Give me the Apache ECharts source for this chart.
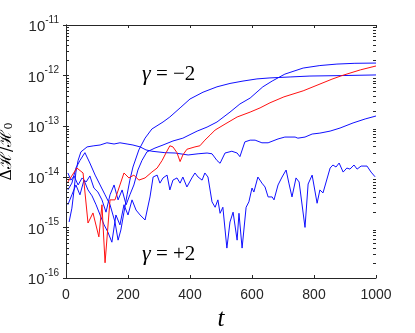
<!DOCTYPE html>
<html>
<head>
<meta charset="utf-8">
<script src="https://cdn.jsdelivr.net/npm/echarts@6/dist/echarts.min.js"></script>
<style>
  html, body { margin: 0; padding: 0; background: #fff; }
  #chart { width: 415px; height: 333px; }
</style>
</head>
<body>
<div id="chart"></div>
<script>
// tick values
const xTicks = [0, 200, 400, 600, 800, 1000];
const decades = [1e-16, 1e-15, 1e-14, 1e-13, 1e-12];
const minorMantissas = [2, 3, 4, 5, 6, 7, 8, 9];

// gamma = -2, early rise, saturates near 1e-12
const blueEarly = [
  [6, 5.5e-15], [19, 7.5e-15], [32, 1.49e-14], [45, 2.1e-14], [61, 3.0e-14], [77, 1.87e-14],
  [94, 1.08e-14], [110, 6.9e-15], [126, 4.4e-15], [142, 2.8e-15], [158, 1.28e-15], [168, 5.6e-16],
  [177, 8.9e-16], [187, 2.0e-15], [197, 4.4e-15], [206, 8.6e-15], [216, 1.56e-14], [235, 3.4e-14],
  [255, 5.8e-14], [277, 8.8e-14], [313, 1.21e-13], [335, 1.52e-13], [368, 2.3e-13], [400, 3.45e-13],
  [442, 4.7e-13], [487, 6.0e-13], [529, 7.0e-13], [571, 7.8e-13], [616, 8.6e-13], [658, 9.0e-13],
  [723, 9.4e-13], [787, 9.8e-13], [884, 1.0e-12], [1000, 1.03e-12]
];

// gamma = -2, later rise, up to ~1.8e-12
const blueLate = [
  [6, 1.19e-14], [16, 8.6e-15], [26, 1.04e-14], [39, 6.9e-15], [52, 9.5e-15], [65, 7.9e-15],
  [77, 1.04e-14], [90, 6.0e-15], [103, 5.0e-15], [116, 3.5e-15], [129, 2.0e-15], [142, 4.4e-15],
  [155, 6.9e-15], [168, 3.5e-15], [181, 5.5e-15], [194, 2.8e-15], [206, 4.4e-15], [219, 6.9e-15],
  [232, 1.36e-14], [245, 2.1e-14], [261, 3.1e-14], [287, 3.7e-14], [313, 4.25e-14], [345, 5.1e-14],
  [377, 5.8e-14], [423, 8.0e-14], [455, 9.6e-14], [487, 1.21e-13], [529, 1.9e-13], [561, 2.75e-13],
  [594, 3.6e-13], [635, 6.0e-13], [665, 7.8e-13], [706, 1.07e-12], [765, 1.41e-12], [819, 1.58e-12],
  [874, 1.69e-12], [932, 1.75e-12], [1000, 1.77e-12]
];

// plateau near 4e-14, slow rise to ~1.6e-13
const bluePlateau = [
  [10, 1.28e-15], [19, 2.4e-15], [26, 5.5e-15], [32, 1.24e-14], [39, 2.1e-14], [48, 3.1e-14],
  [68, 3.9e-14], [90, 4.1e-14], [110, 4.25e-14], [132, 4.7e-14], [155, 4.45e-14], [174, 4.7e-14],
  [197, 4.45e-14], [216, 4.25e-14], [239, 3.9e-14], [258, 3.4e-14], [277, 3.2e-14], [319, 3.0e-14],
  [352, 2.95e-14], [394, 2.7e-14], [426, 2.85e-14], [455, 2.95e-14], [471, 2.85e-14], [487, 2.1e-14],
  [497, 1.85e-14], [513, 2.95e-14], [535, 3.2e-14], [552, 2.95e-14], [561, 2.5e-14], [577, 4.9e-14],
  [594, 5.3e-14], [610, 5.3e-14], [632, 4.7e-14], [652, 4.7e-14], [684, 5.6e-14], [706, 6.1e-14],
  [739, 6.1e-14], [748, 5.8e-14], [771, 6.1e-14], [794, 7.0e-14], [819, 7.3e-14], [852, 8.0e-14],
  [884, 9.2e-14], [926, 1.16e-13], [965, 1.39e-13], [1000, 1.59e-13]
];

// gamma = +2, noisy
const blueNoisy = [
  [6, 2.8e-15], [19, 4.4e-15], [32, 6.9e-15], [45, 4.4e-15], [58, 8.6e-15], [71, 5.5e-15],
  [84, 4.2e-15], [97, 2.8e-15], [110, 1.76e-15], [123, 1.12e-15], [135, 8.1e-16], [148, 5.1e-16],
  [161, 1.76e-15], [174, 1.12e-15], [187, 2.8e-15], [200, 1.76e-15], [213, 3.5e-15], [226, 2.2e-15],
  [239, 1.76e-15], [255, 1.4e-15], [271, 4.0e-15], [281, 9.9e-15], [294, 1.08e-14], [303, 7.5e-15],
  [313, 9.5e-15], [326, 1.08e-14], [335, 5.5e-15], [345, 8.6e-15], [358, 9.5e-15], [368, 7.5e-15],
  [377, 9.9e-15], [390, 6.3e-15], [406, 9.5e-15], [416, 1.19e-14], [426, 9.9e-15], [439, 8.6e-15],
  [448, 1.19e-14], [458, 9.9e-15], [471, 3.2e-15], [481, 2.5e-15], [490, 3.5e-15], [497, 1.9e-15],
  [506, 2.5e-15], [519, 3.9e-16], [529, 1.28e-15], [539, 2.0e-15], [552, 5.6e-16], [558, 1.9e-15],
  [568, 3.9e-16], [581, 2.5e-15], [590, 3.2e-15], [600, 6.0e-15], [606, 5.0e-15], [619, 9.9e-15],
  [632, 7.5e-15], [642, 6.3e-15], [652, 4.0e-15], [665, 4.0e-15], [671, 3.5e-15], [684, 6.9e-15],
  [697, 9.9e-15], [710, 1.36e-14], [719, 7.5e-15], [729, 4.0e-15], [742, 9.5e-15], [752, 7.9e-15],
  [771, 1.0e-15], [781, 7.2e-15], [794, 1.08e-14], [810, 3.0e-15], [819, 5.5e-15], [829, 4.8e-15],
  [852, 1.49e-14], [861, 1.71e-14], [871, 1.56e-14], [881, 1.87e-14], [894, 1.24e-14], [906, 1.49e-14],
  [916, 1.42e-14], [929, 1.71e-14], [939, 1.42e-14], [952, 1.63e-14], [971, 1.63e-14], [984, 1.24e-14],
  [997, 1.0e-14]
];

const red = [
  [6, 7.9e-15], [35, 1.49e-14], [55, 1.19e-14], [71, 1.22e-15], [87, 1.93e-15], [106, 6.5e-16],
  [116, 2.8e-15], [126, 2.0e-16], [142, 3.5e-15], [158, 3.5e-15], [174, 6.9e-15], [187, 1.19e-14],
  [203, 9.5e-15], [219, 1.08e-14], [235, 8.6e-15], [255, 9.5e-15], [277, 1.24e-14], [294, 1.49e-14],
  [310, 2.1e-14], [323, 3.0e-14], [335, 4.1e-14], [345, 3.9e-14], [358, 3.0e-14], [368, 2.0e-14],
  [377, 2.7e-14], [390, 3.5e-14], [416, 3.9e-14], [432, 4.1e-14], [448, 5.3e-14], [465, 6.7e-14],
  [481, 8.4e-14], [513, 1.1e-13], [552, 1.52e-13], [594, 1.9e-13], [626, 2.3e-13], [658, 2.9e-13],
  [703, 3.8e-13], [765, 5.0e-13], [858, 8.5e-13], [890, 1.0e-12], [950, 1.3e-12], [1000, 1.55e-12]
];

// minor ticks sit at x = 0 (left frame) and x = 1000 (right frame)
const minorLeft = [];
const minorRight = [];
decades.forEach(d => minorMantissas.forEach(m => {
  minorLeft.push([0, m * d]);
  minorRight.push([1000, m * d]);
}));

const axisColor = '#262626';
const blue = '#1010ff';

const chart = echarts.init(document.getElementById('chart'), null, { renderer: 'canvas' });

const lineSeries = (data, color) => ({
  type: 'line',
  data: data,
  showSymbol: false,
  symbol: 'none',
  lineStyle: { color: color, width: 1 },
  itemStyle: { color: color },
  animation: false,
  xAxisIndex: 0,
  yAxisIndex: 0
});

const gammaText = (txt, top) => ({
  type: 'text', left: 142, top: top,
  style: {
    text: '{g|γ} = ' + txt,
    fontFamily: 'Liberation Serif', fontSize: 21, fill: '#000',
    rich: { g: { fontFamily: 'Liberation Serif', fontStyle: 'italic', fontSize: 22, fill: '#000' } }
  }
});

// short inward tick marks placed through the axis scales
const tickSeries = (data, dir) => ({
  type: 'custom',
  data: data,
  silent: true,
  animation: false,
  clip: false,
  z: 10,
  renderItem: (params, api) => {
    const p = api.coord([api.value(0), api.value(1)]);
    const x = Math.round(p[0]);
    const y = Math.round(p[1]) + 0.5;
    return {
      type: 'line',
      shape: { x1: x, y1: y, x2: x + dir * 3, y2: y },
      style: { stroke: axisColor, lineWidth: 1 }
    };
  }
});

const option = {
  animation: false,
  backgroundColor: '#fff',
  grid: { left: 66, right: 39, top: 25, bottom: 55, containLabel: false, outerBoundsMode: 'none' },
  xAxis: [
    {
      type: 'value', min: 0, max: 1000, interval: 200,
      name: 't', nameLocation: 'middle', nameGap: 28,
      nameTextStyle: { fontFamily: 'Liberation Serif', fontStyle: 'italic', fontSize: 25, color: '#000' },
      axisLine: { lineStyle: { color: axisColor, width: 1 } },
      axisTick: { inside: true, length: 3, lineStyle: { color: axisColor } },
      axisLabel: { fontFamily: 'Liberation Sans', fontSize: 14, color: axisColor, margin: 10, formatter: v => String(v) },
      splitLine: { show: false }
    },
    {
      type: 'value', position: 'top', min: 0, max: 1000, interval: 200,
      axisLine: { lineStyle: { color: axisColor, width: 1 } },
      axisTick: { inside: true, length: 3, lineStyle: { color: axisColor } },
      axisLabel: { show: false },
      splitLine: { show: false }
    }
  ],
  yAxis: [
    {
      type: 'log', logBase: 10, min: 1e-16, max: 1e-11,
      name: '{m|Δℋ/ℋ}{s|0}', nameLocation: 'middle', nameGap: 51, nameRotate: 90,
      nameTextStyle: {
        color: '#000',
        rich: {
          m: { fontFamily: 'DejaVu Serif', fontSize: 16, color: '#000' },
          s: { fontFamily: 'DejaVu Serif', fontSize: 11, color: '#000', padding: [6, 0, 0, 0] }
        }
      },
      axisLine: { lineStyle: { color: axisColor, width: 1 } },
      axisTick: { inside: true, length: 3, lineStyle: { color: axisColor } },
      axisLabel: {
        margin: 7,
        formatter: v => '{b|10}{s|' + Math.round(Math.log10(v)) + '}',
        rich: {
          b: { fontFamily: 'Liberation Sans', fontSize: 15, color: axisColor, padding: [4, 0, 0, 0] },
          s: { fontFamily: 'Liberation Sans', fontSize: 10, color: axisColor, padding: [0, 0, 10, 0] }
        }
      },
      splitLine: { show: false }
    },
    {
      type: 'log', logBase: 10, min: 1e-16, max: 1e-11, position: 'right',
      axisLine: { lineStyle: { color: axisColor, width: 1 } },
      axisTick: { inside: true, length: 3, lineStyle: { color: axisColor } },
      axisLabel: { show: false },
      splitLine: { show: false }
    }
  ],
  graphic: [gammaText('−2', 63), gammaText('+2', 243)],
  series: [
    tickSeries(minorLeft, 1),
    tickSeries(minorRight, -1),
    lineSeries(bluePlateau, blue),
    lineSeries(blueNoisy, blue),
    lineSeries(blueEarly, blue),
    lineSeries(blueLate, blue),
    lineSeries(red, '#ff1010')
  ]
};

chart.setOption(option);
</script>
</body>
</html>
